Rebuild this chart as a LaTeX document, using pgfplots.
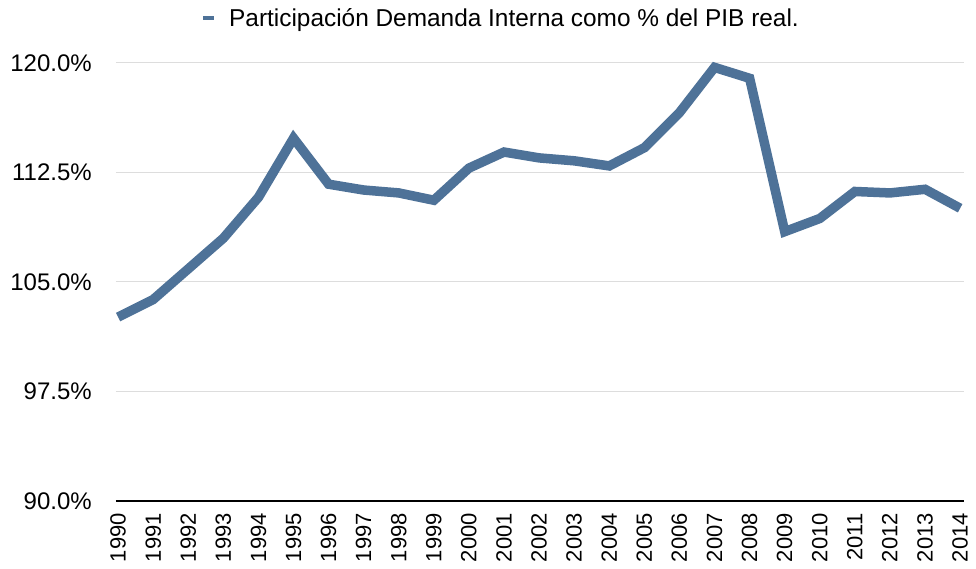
\documentclass[border=0pt]{standalone}
\usepackage{fontspec}
\setmainfont{Liberation Sans}
\usepackage{pgfplots}
\pgfplotsset{compat=1.18}
\definecolor{lineblue}{RGB}{78,114,152}
\definecolor{gridgray}{RGB}{221,221,221}
\begin{document}
\begin{tikzpicture}
\begin{axis}[
  scale only axis,
  width=848pt, height=438pt,
  xmin=1989.94, xmax=2014.11,
  ymin=90, ymax=120,
  clip=false,
  axis x line*=bottom,
  axis y line*=left,
  y axis line style={draw=none},
  x axis line style={line width=1.4pt, black},
  major tick length=0pt,
  xtick={1990,...,2014},
  ytick={90,97.5,105,112.5,120},
  yticklabels={90.0\%,97.5\%,105.0\%,112.5\%,120.0\%},
  /pgf/number format/assume math mode=true,
  /pgf/number format/1000 sep={},
  xticklabel style={rotate=90, anchor=east, font=\fontsize{22}{26}\selectfont, inner sep=0pt},
  xticklabel shift=12pt,
  yticklabel style={font=\fontsize{24}{28}\selectfont, inner sep=0pt},
  yticklabel shift=24pt,
  ymajorgrids,
  grid style={gridgray, line width=1pt},
  legend style={at={(axis description cs:0.1026,1.103)}, anchor=west, draw=none, fill=none,
    font=\fontsize{24.4}{28}\selectfont, inner sep=0pt},
  legend image code/.code={\fill[lineblue, draw=none] (0pt,-2pt) rectangle (11pt,2pt); \path[draw=none, fill=none] (0pt,0pt) -- (24pt,0pt);},
  legend cell align=left,
]
\addplot[lineblue, line width=9.5pt, line join=miter, line cap=butt] coordinates {
(1990,102.6) (1991,103.8) (1992,105.9) (1993,108.0) (1994,110.8)
(1995,114.85) (1996,111.7) (1997,111.3) (1998,111.1) (1999,110.6)
(2000,112.8) (2001,113.9) (2002,113.5) (2003,113.3) (2004,112.95)
(2005,114.2) (2006,116.6) (2007,119.7) (2008,118.95) (2009,108.45)
(2010,109.35) (2011,111.2) (2012,111.1) (2013,111.35) (2014,110.05)
};
\addlegendentry{Participación Demanda Interna como \% del PIB real.}
\end{axis}
\pgfresetboundingbox
\path ([xshift=-116pt,yshift=-68pt]current axis.south west) rectangle ([xshift=12pt,yshift=63pt]current axis.north east);
\end{tikzpicture}
\end{document}
